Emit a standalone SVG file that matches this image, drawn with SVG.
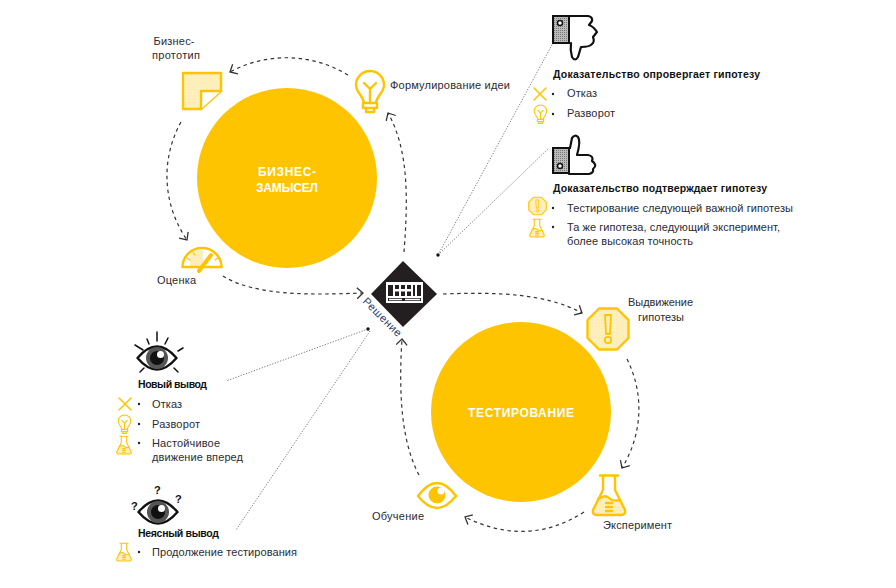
<svg xmlns="http://www.w3.org/2000/svg" xmlns:xlink="http://www.w3.org/1999/xlink" width="896" height="588" viewBox="0 0 896 588">
<style>
text{font-family:"Liberation Sans",Arial,sans-serif;font-size:11px;fill:#2b2b33}
.b{font-weight:bold;fill:#111;font-size:10.5px}
.w{font-weight:bold;fill:#fff;font-size:12px;text-anchor:middle}
.m{text-anchor:middle}
.y{fill:none;stroke:#ffc400;stroke-width:2.4;stroke-linejoin:round;stroke-linecap:round}
.yf{fill:url(#ht);stroke:#ffc400;stroke-width:2.4;stroke-linejoin:round;stroke-linecap:round}
.k{fill:none;stroke:#111;stroke-width:2.2;stroke-linejoin:round;stroke-linecap:round}
.c{fill:none;stroke:#333;stroke-width:1.2;stroke-dasharray:3.5 3.5;marker-end:url(#ar)}
.d{fill:none;stroke:#666;stroke-width:.9;stroke-dasharray:1.2 1.6}
</style>
<defs>
<pattern id="ht" width="3" height="3" patternUnits="userSpaceOnUse"><rect width="3" height="3" fill="#fdeeb8"/><circle cx="1.5" cy="1.5" r=".6" fill="#fff6d8"/></pattern>
<pattern id="gr" width="2" height="2" patternUnits="userSpaceOnUse"><rect width="2" height="2" fill="#bbb"/><rect width="1" height="1" fill="#777"/></pattern>
<marker id="ar" markerUnits="userSpaceOnUse" markerWidth="14" markerHeight="14" refX="8" refY="6" orient="auto"><path d="M2 0.5 L8 6 L2 11.5" fill="none" stroke="#333" stroke-width="1.3"/></marker>
<g id="bulb"><path class="y" d="M-6 12 C-7 4 -14 2 -14 -6 A14 14 0 1 1 14 -6 C14 2 7 4 6 12 Z"/><path class="y" d="M-6 -8 L0 -2 L6 -8 M0 -2 V12 M-7 12 V17 H7 V12 M-4 17 V21 H4 V17"/></g>
<g id="flask"><path d="M-11 4 Q-4 -1 0 3 T11 5 L16 15 Q17 20 12 20 H-12 Q-17 20 -16 15 Z" fill="url(#ht)"/><path class="y" d="M-9 -19.500 H9 M-6 -19.500 V-5 L-16 15 Q-17 20 -12 20 H12 Q17 20 16 15 L6 -5 V-19.500"/><path class="y" d="M-11 4 Q-4 -1 0 3 T11 5 M-3 8 H3 M-3 12 H3 M-3 16 H3"/></g>
<g id="warn"><path class="yf" d="M-9 -20.500 H9 L20.500 -9 V9 L9 20.500 H-9 L-20.500 9 V-9 Z"/><path class="y" d="M-3 -14 H3 L2 5 H-2 Z" style="stroke-width:1.800"/><circle class="y" cx="0" cy="11" r="3.200" style="stroke-width:1.800"/></g>
<path id="x" class="y" d="M-6 -6 L6 6 M6 -6 L-6 6" style="stroke-width:1.500"/>
<g id="blackeye"><path d="M-19.500 0 Q0 -23 19.500 0 Q0 23 -19.500 0 Z" fill="#fff" stroke="#111" stroke-width="2.400" stroke-linejoin="round"/><circle r="11" fill="#555"/><circle r="7" fill="#111"/><circle cx="3.500" cy="-3.500" r="3.500" fill="#fff"/></g>
</defs>

<g id="connectors">
<path class="c" d="M404 252 C408 200 409 150 388 113"/>
<path class="c" d="M348 75 C310 52 265 53 230 72"/>
<path class="c" d="M181 122 C160 160 163 205 187 240"/>
<path class="c" d="M223 276 C255 296 310 295 363 293"/>
<path class="c" d="M443 294 C495 292 545 293 582 313"/>
<path class="c" d="M627 359 C645 395 642 435 622 468"/>
<path class="c" d="M584 512 C545 537 505 537 465 517"/>
<path class="c" d="M419 475 C403 445 398 400 402 339"/>
<path class="d" d="M438 255 L553 43"/>
<path class="d" d="M438 255 L549 148"/>
<path class="d" d="M368 329 L226 381"/>
<path class="d" d="M370 331 L236 530"/>
<circle cx="438" cy="255" r="1.700" fill="#111"/>
<circle cx="368" cy="329" r="1.700" fill="#111"/>
</g>

<g id="node-business">
<circle cx="287" cy="178" r="90" fill="#ffc400"/>
<text class="w" x="287" y="176" textLength="58">БИЗНЕС-</text>
<text class="w" x="287" y="192" textLength="62">ЗАМЫСЕЛ</text>
</g>
<g id="node-testing">
<circle cx="521" cy="412" r="90" fill="#ffc400"/>
<text class="w" x="521" y="417" textLength="106">ТЕСТИРОВАНИЕ</text>
</g>

<g id="node-decision">
<path d="M403 261 L437 294 L403 327 L371 294 Z" fill="#231f20"/>
<rect x="386" y="282" width="37" height="21" fill="#fff"/>
<path d="M388 285 h5 v11 h-5 z M395 285 h4 v4 h-4 z M395 291.500 h4 v4.500 h-4 z M401 285 h4 v4 h-4 z M401 291.500 h4 v4.500 h-4 z M407 285 h4 v4 h-4 z M407 291.500 h4 v4.500 h-4 z M413 285 h2 v11 h-2 z M417 285 h4 v11 h-4 z M388 298 h33 v3 h-33 z" fill="#231f20"/>
<path d="M389 299.500 H402 M405 299.500 H420" stroke="#fff" stroke-width="1.300"/>
<text transform="translate(362 302) rotate(45)" style="fill:#27406b" textLength="50">Решение</text>
</g>

<g id="node-idea">
<use xlink:href="#bulb" href="#bulb" transform="translate(370 91)"/>
<text x="390" y="89" textLength="120">Формулирование идеи</text>
</g>
<g id="node-prototype">
<path class="yf" d="M183 73 H221 V91 L201 109 H183 Z"/>
<path class="y" d="M221 91 H201 V109" style="fill:#fff"/>
<text class="m" x="174" y="45" textLength="41">Бизнес-</text>
<text class="m" x="176" y="59" textLength="48">прототип</text>
</g>
<g id="node-assessment">
<path d="M190 255 A16 16 0 0 1 203 250 V266 H190 Z" fill="url(#ht)"/>
<path class="y" d="M182.500 267 A19.500 19 0 0 1 221.500 267 Z"/>
<path d="M199 271 L211 255" stroke="#ffc400" stroke-width="4" stroke-linecap="round"/>
<path class="y" d="M187 258 l3 2 M193 252 l2 3 M218 258 l-3 2" style="stroke-width:1.200"/>
<text x="157" y="284" textLength="39">Оценка</text>
</g>
<g id="node-hypothesis">
<use xlink:href="#warn" href="#warn" transform="translate(608 329)"/>
<text x="628" y="306" textLength="65">Выдвижение</text>
<text x="638" y="321" textLength="46">гипотезы</text>
</g>
<g id="node-experiment">
<use xlink:href="#flask" href="#flask" transform="translate(609 495)"/>
<text x="603" y="529" textLength="69">Эксперимент</text>
</g>
<g id="node-learning">
<path class="y" d="M418 496 Q437 470 456 496 Q437 520 418 496 Z"/>
<circle cx="437" cy="495" r="8.500" fill="#ffc400"/>
<circle cx="441" cy="491" r="3.500" fill="#fff"/>
<text x="372" y="520" textLength="52">Обучение</text>
</g>

<g id="node-refute">
<path class="k" d="M569 16 H588 Q593 17 592 21 L589 25 Q593 26 597 32 L593 37 Q595 42 592 44 Q590 47 581 47 L578 57 Q575 62 572 57 Q570 50 571 43"/>
<rect x="553" y="16" width="16" height="27" fill="url(#gr)" stroke="#111" stroke-width="2"/>
<circle cx="560" cy="23" r="2.500" fill="#fff" stroke="#111" stroke-width="1.500"/>
<text class="b" x="553" y="78" textLength="207">Доказательство опровергает гипотезу</text>
<use xlink:href="#x" href="#x" transform="translate(540 94)"/>
<circle cx="553" cy="94" r="1.200" fill="#222"/>
<text x="567" y="97" textLength="30">Отказ</text>
<use xlink:href="#bulb" href="#bulb" transform="translate(540.500 114) scale(.45)"/>
<circle cx="553" cy="114" r="1.200" fill="#222"/>
<text x="567" y="117" textLength="48">Разворот</text>
</g>
<g id="node-confirm">
<path class="k" d="M570 148 L572 138 Q575 134 578 137 Q581 141 577 155 H588 Q594 156 592 161 Q598 165 593 169 Q594 173 589 174 H569"/>
<rect x="553" y="148" width="16" height="25" fill="url(#gr)" stroke="#111" stroke-width="2"/>
<circle cx="560" cy="166" r="2.500" fill="#fff" stroke="#111" stroke-width="1.500"/>
<text class="b" x="553" y="192" textLength="214">Доказательство подтверждает гипотезу</text>
<use xlink:href="#warn" href="#warn" transform="translate(537.500 206) scale(.43)"/>
<circle cx="553" cy="208" r="1.200" fill="#222"/>
<text x="567" y="212" textLength="226">Тестирование следующей важной гипотезы</text>
<use xlink:href="#flask" href="#flask" transform="translate(537 228) scale(.45)"/>
<circle cx="553" cy="227" r="1.200" fill="#222"/>
<text x="567" y="231" textLength="213">Та же гипотеза, следующий эксперимент,</text>
<text x="567" y="245" textLength="126">более высокая точность</text>
</g>
<g id="node-new-conclusion">
<use xlink:href="#blackeye" href="#blackeye" transform="translate(157 358)"/>
<path class="k" d="M157 332 V341 M147 339 L149 344 M168 338 L165 344 M135 345 L143 350 M183 348 L178 351 M140 372 L144 368 M174 368 L178 372" style="stroke-width:1.500"/>
<text class="b" x="138" y="388" textLength="69">Новый вывод</text>
<use xlink:href="#x" href="#x" transform="translate(125 404)"/>
<circle cx="139" cy="404" r="1.200" fill="#222"/>
<text x="152" y="408" textLength="30">Отказ</text>
<use xlink:href="#bulb" href="#bulb" transform="translate(124.500 424) scale(.45)"/>
<circle cx="139" cy="424" r="1.200" fill="#222"/>
<text x="152" y="428" textLength="48">Разворот</text>
<use xlink:href="#flask" href="#flask" transform="translate(124 445) scale(.45)"/>
<circle cx="139" cy="443" r="1.200" fill="#222"/>
<text x="152" y="447" textLength="68">Настойчивое</text>
<text x="152" y="461" textLength="91">движение вперед</text>
</g>
<g id="node-unclear-conclusion">
<use xlink:href="#blackeye" href="#blackeye" transform="translate(158 512)"/>
<text x="154" y="494" style="font-weight:bold;fill:#111;font-size:11px">?</text>
<text x="131" y="510" style="font-weight:bold;fill:#111;font-size:11px">?</text>
<text x="175" y="503" style="font-weight:bold;fill:#111;font-size:11px">?</text>
<text class="b" x="138" y="537" textLength="81">Неясный вывод</text>
<use xlink:href="#flask" href="#flask" transform="translate(124 552) scale(.45)"/>
<circle cx="139" cy="552" r="1.200" fill="#222"/>
<text x="152" y="556" textLength="145">Продолжение тестирования</text>
</g>
</svg>
